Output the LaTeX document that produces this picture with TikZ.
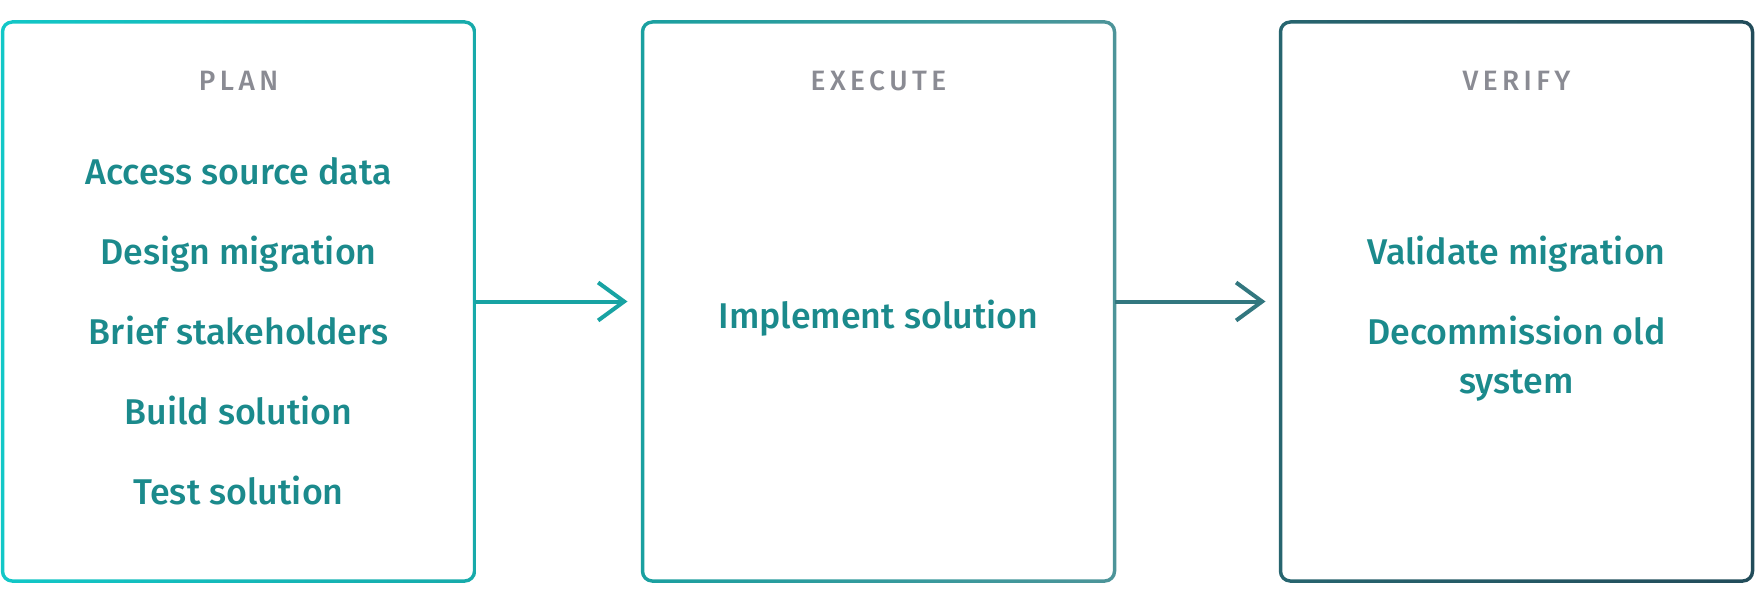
\documentclass[tikz,border=0pt]{standalone}
\usepackage{fontspec}
\setmainfont{Fira Sans}
\newfontfamily\itemfont{Fira Sans Medium}
\newfontfamily\labfont{Fira Sans Medium}[LetterSpace=16]
\usetikzlibrary{arrows.meta}
\definecolor{itemcol}{HTML}{1B8A8C}
\definecolor{labcol}{HTML}{8A8B93}
\definecolor{planL}{HTML}{12C7C7}
\definecolor{planR}{HTML}{17AAAA}
\definecolor{execL}{HTML}{1AA0A0}
\definecolor{execR}{HTML}{4D9499}
\definecolor{verL}{HTML}{27656F}
\definecolor{verR}{HTML}{224C5A}
\definecolor{arrA}{HTML}{18A3A3}
\definecolor{arrB}{HTML}{32777F}
\newcommand\gradborder[3]{%
  \shade[left color=#2, right color=#3, even odd rule, rounded corners=11.5pt]
    ([shift={(-1.75pt,1.75pt)}]#1.north west) rectangle ([shift={(1.75pt,-1.75pt)}]#1.south east)
    [rounded corners=8pt]
    ([shift={(1.75pt,-1.75pt)}]#1.north west) rectangle ([shift={(-1.75pt,1.75pt)}]#1.south east);}
\begin{document}
\begin{tikzpicture}[x=1pt,y=-1pt,
  box/.style={minimum width=472pt, minimum height=559pt, inner sep=0pt, outer sep=0pt, draw=none},
  lab/.style={anchor=base, inner sep=0pt, text=labcol, font=\labfont\fontsize{28}{34}\selectfont},
  item/.style={anchor=base, inner sep=0pt, text=itemcol, align=center, font=\itemfont\fontsize{35.8}{49}\selectfont},
  conn/.style={line width=4pt, -{Straight Barb[length=26pt, width=38pt, sharp]}}]
\useasboundingbox (0,0) rectangle (1756,610);
\node[box] (plan) at (238.5,301.5) {};
\node[box] (exec) at (878.5,301.5) {};
\node[box] (verify) at (1516.5,301.5) {};
\gradborder{plan}{planL}{planR}
\gradborder{exec}{execL}{execR}
\gradborder{verify}{verL}{verR}
\node[lab] (lplan) at (238.5,90) {PLAN};
\node[lab] (lexec) at (878.5,90) {EXECUTE};
\node[lab] (lver) at (1516.5,90) {VERIFY};
\node[item] (p1) at (238.5,184) {Access source data};
\node[item] (p2) at (238.5,264) {Design migration};
\node[item] (p3) at (238.5,344) {Brief stakeholders};
\node[item] (p4) at (238.5,424) {Build solution};
\node[item] (p5) at (238.5,504) {Test solution};
\node[item] (e1) at (878.5,328) {Implement solution};
\node[item] (v1) at (1516.5,264) {Validate migration};
\node[item] (v2) at (1516.5,393) {Decommission old\\system};
\draw[conn, arrA] (plan.east) -- ([xshift=-15pt]exec.west);
\draw[conn, arrB] (exec.east) -- ([xshift=-15pt]verify.west);
\end{tikzpicture}
\end{document}
